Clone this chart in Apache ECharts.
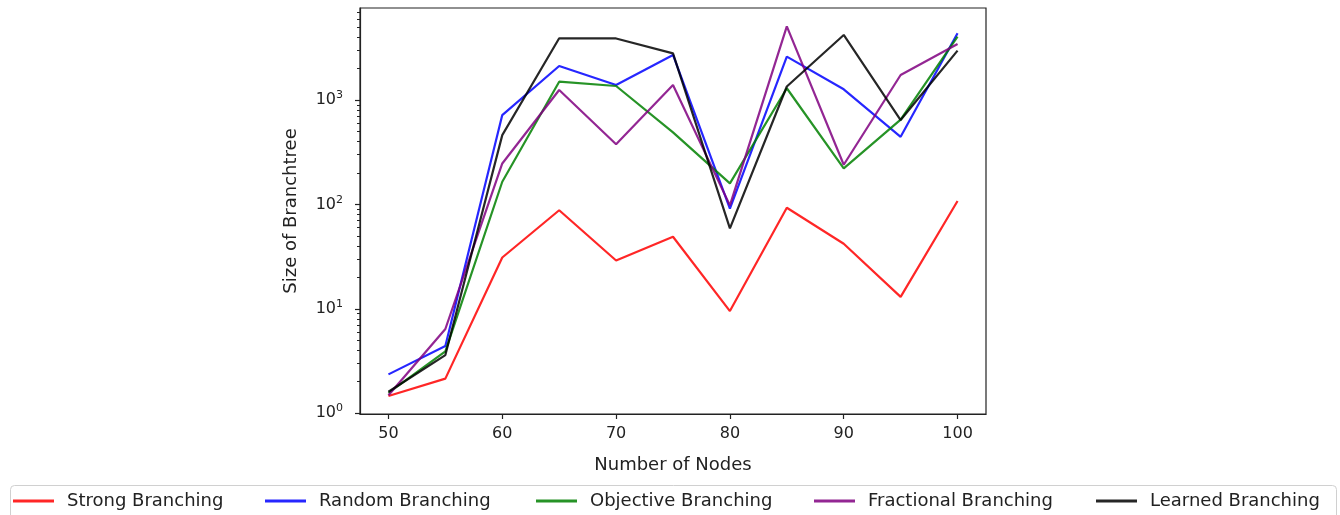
<!DOCTYPE html>
<html>
<head>
<meta charset="utf-8">
<script src="https://cdn.jsdelivr.net/npm/echarts@6/dist/echarts.min.js"></script>
<style>
html,body{margin:0;padding:0;background:#fff;}
#chart{width:1340px;height:515px;}
</style>
</head>
<body>
<div id="chart"></div>
<script>
const nodes = [50, 55, 60, 65, 70, 75, 80, 85, 90, 95, 100];
const strongBranching = [1.46, 2.14, 31, 88, 29, 49, 9.5, 93, 42, 13, 108];
const randomBranching = [2.35, 4.4, 719, 2125, 1396, 2710, 91, 2610, 1270, 445, 4375];
const objectiveBranching = [1.56, 3.9, 165, 1502, 1366, 490, 159, 1300, 222, 650, 4060];
const fractionalBranching = [1.48, 6.4, 247, 1250, 377, 1396, 98, 5100, 240, 1742, 3450];
const learnedBranching = [1.6, 3.6, 462, 3920, 3900, 2810, 59, 1350, 4215, 644, 2980];

const seriesNames = ['Strong Branching', 'Random Branching', 'Objective Branching', 'Fractional Branching', 'Learned Branching'];
const seriesValues = [strongBranching, randomBranching, objectiveBranching, fractionalBranching, learnedBranching];
const seriesColors = ['rgba(255,0,0,0.85)', 'rgba(0,0,255,0.85)', 'rgba(0,128,0,0.85)', 'rgba(128,0,128,0.85)', 'rgba(0,0,0,0.85)'];

const xTicks = [50, 60, 70, 80, 90, 100];
const yMajorTicks = [1, 10, 100, 1000];
const yMinorTicks = [2,3,4,5,6,7,8,9,20,30,40,50,60,70,80,90,200,300,400,500,600,700,800,900,2000,3000,4000,5000,6000,7000];

const Y_MIN = 0.98, Y_MAX = 7640;
const FONT = 'DejaVu Sans';
const TXT = '#222';

const chart = echarts.init(document.getElementById('chart'), null, {renderer: 'canvas'});

const legendLefts = [13, 265, 536, 814, 1096];

const option = {
  animation: false,
  backgroundColor: '#fff',
  grid: {left: 360, top: 8, right: 354, bottom: 101, show: true, borderColor: '#222', borderWidth: 1.2, backgroundColor: 'transparent'},
  xAxis: {
    type: 'value', min: 47.5, max: 102.5,
    name: 'Number of Nodes', nameLocation: 'middle', nameGap: 42,
    nameTextStyle: {fontFamily: FONT, fontSize: 18, color: TXT},
    axisLine: {show: true, lineStyle: {color: '#222', width: 1.2}},
    axisTick: {show: true, length: 5, customValues: xTicks, lineStyle: {color: '#222', width: 1.2}},
    axisLabel: {customValues: xTicks, margin: 12, fontFamily: FONT, fontSize: 16, color: TXT},
    splitLine: {show: false}
  },
  yAxis: [
    {
      type: 'log', logBase: 10, min: Y_MIN, max: Y_MAX,
      name: 'Size of Branchtree', nameLocation: 'middle', nameGap: 60,
      nameTextStyle: {fontFamily: FONT, fontSize: 18, color: TXT},
      axisLine: {show: true, lineStyle: {color: '#222', width: 1.2}},
      axisTick: {show: true, length: 5, customValues: yMajorTicks, lineStyle: {color: '#222', width: 1.2}},
      axisLabel: {
        customValues: yMajorTicks, margin: 17,
        formatter: function (v) {
          const e = Math.round(Math.log10(v));
          return '{b|10}{s|' + e + '}';
        },
        rich: {
          b: {fontFamily: FONT, fontSize: 16, color: TXT},
          s: {fontFamily: FONT, fontSize: 11, color: TXT, padding: [0, 0, 9, 0]}
        }
      },
      splitLine: {show: false}
    },
    {
      type: 'log', logBase: 10, min: Y_MIN, max: Y_MAX, position: 'left',
      axisLine: {show: false},
      axisTick: {show: true, length: 3, customValues: yMinorTicks, lineStyle: {color: '#222', width: 1}},
      axisLabel: {show: false},
      splitLine: {show: false}
    }
  ],
  legend: seriesNames.map((n, i) => ({
    data: [{name: n, icon: 'rect', itemStyle: {color: seriesColors[i]}}],
    left: legendLefts[i], top: 492, padding: 0,
    itemWidth: 41, itemHeight: 3, itemGap: 0,
    textStyle: {fontFamily: FONT, fontSize: 18, color: TXT, padding: [0, 0, 0, 8]}
  })),
  graphic: [{
    type: 'rect', left: 10, top: 485, z: -1,
    shape: {width: 1326, height: 50, r: 4},
    style: {fill: '#fff', stroke: '#d0d0d0', lineWidth: 1}
  }],
  series: seriesNames.map((n, i) => ({
    name: n, type: 'line', yAxisIndex: 0,
    data: nodes.map((x, j) => [x, seriesValues[i][j]]),
    symbol: 'none', showSymbol: false,
    lineStyle: {color: seriesColors[i], width: 2.2},
    itemStyle: {color: seriesColors[i]},
    emphasis: {disabled: true}
  }))
};
chart.setOption(option);
</script>
</body>
</html>
